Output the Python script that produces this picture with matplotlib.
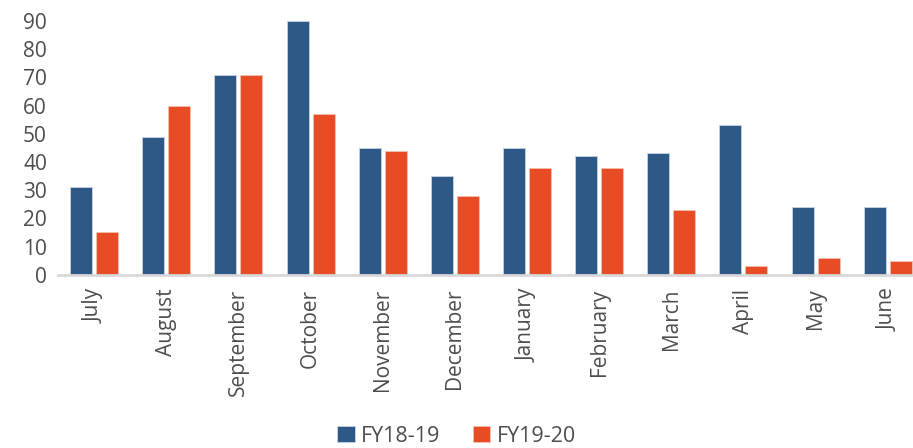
import numpy as np
import matplotlib
matplotlib.use('Agg')
import matplotlib.pyplot as plt

months = ['July', 'August', 'September', 'October', 'November', 'December',
          'January', 'February', 'March', 'April', 'May', 'June']
fy1819 = [31, 49, 71, 90, 45, 35, 45, 42, 43, 53, 24, 24]
fy1920 = [15, 60, 71, 57, 44, 28, 38, 38, 23, 3, 6, 5]

plt.rcParams['font.family'] = ['Open Sans', 'DejaVu Sans']

fig = plt.figure(figsize=(9.13, 4.48), dpi=100)
ax = fig.add_axes([58 / 913, 1 - 274.7 / 448, (913 - 58) / 913, (274.7 - 21) / 448])

x = np.arange(len(months))
w = 0.305
off = 0.18
ax.bar(x - off, fy1819, w, color='#2E5886', edgecolor='#C9D3E0', linewidth=0.6, label='FY18-19')
ax.bar(x + off, fy1920, w, color='#E84C25', edgecolor='#F6C0B0', linewidth=0.6, label='FY19-20')

ax.set_xlim(-0.5, 11.35)
ax.set_ylim(0, 90)
ax.set_yticks(range(0, 91, 10))
ax.set_xticks(x)
ax.set_xticklabels(months, rotation=90)
ax.tick_params(axis='both', length=0, labelsize=15, colors='#4D4D4D')
ax.tick_params(axis='x', pad=10)
ax.tick_params(axis='y', pad=8)
for s in ['top', 'right', 'left']:
    ax.spines[s].set_visible(False)
ax.spines['bottom'].set_color('#D9D9D9')
ax.spines['bottom'].set_linewidth(2)

fig.legend(loc='lower center', bbox_to_anchor=(0.5, -0.04), ncol=2, frameon=False,
           fontsize=15.5, handlelength=0.8, handleheight=0.8, handletextpad=0.3,
           columnspacing=1.5, labelcolor='#4D4D4D')

fig.savefig('out.png', dpi=100)
